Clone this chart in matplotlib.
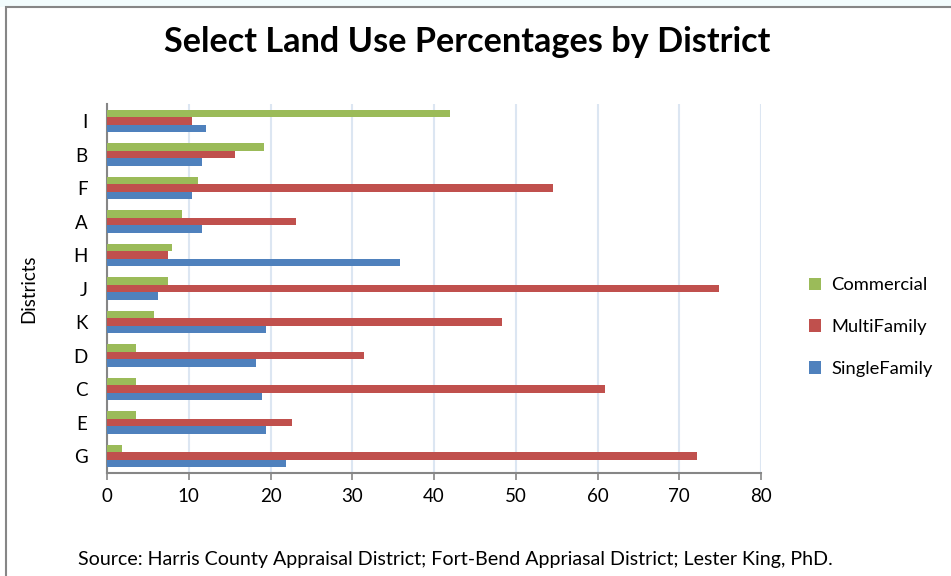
import matplotlib.pyplot as plt
import numpy as np
from matplotlib.patches import Rectangle

# Districts, top to bottom as shown on the chart
districts = ["I", "B", "F", "A", "H", "J", "K", "D", "C", "E", "G"]

# Land use share (%) per district
commercial = [41.9, 19.2, 11.1, 9.2, 7.9, 7.5, 5.7, 3.5, 3.5, 3.5, 1.8]
multi_family = [10.4, 15.7, 54.6, 23.1, 7.5, 74.9, 48.3, 31.4, 60.9, 22.6, 72.2]
single_family = [12.1, 11.6, 10.4, 11.6, 35.8, 6.2, 19.5, 18.2, 19.0, 19.5, 21.9]

x_ticks = [0, 10, 20, 30, 40, 50, 60, 70, 80]

GREEN = "#9BBB59"
RED = "#C0504D"
BLUE = "#4F81BD"
GRID = "#DCE6F2"
AXIS = "#868686"

plt.rcParams["font.family"] = ["Lato", "DejaVu Sans"]

W, H = 951, 576
fig = plt.figure(figsize=(W / 100, H / 100), dpi=100)

# light strip above the chart frame plus the frame itself
fig.patches.append(Rectangle((0, 1 - 7 / H), 1, 7 / H, transform=fig.transFigure,
                             facecolor="#F2FCFD", edgecolor="none", zorder=-10))
fig.patches.append(Rectangle((6 / W, -0.05), 1.1, 1 - 7 / H + 0.05, transform=fig.transFigure,
                             facecolor="white", edgecolor=AXIS, linewidth=1.5, zorder=-10))

left, right = 107 / W, 761 / W
top, bottom = 104.3 / H, 472.8 / H
ax = fig.add_axes([left, 1 - bottom, right - left, bottom - top])
ax.set_facecolor("none")

n = len(districts)
y = np.arange(n)[::-1]
bh = 0.22

ax.barh(y - bh, single_family, height=bh, color=BLUE, label="SingleFamily", zorder=3)
ax.barh(y, multi_family, height=bh, color=RED, label="MultiFamily", zorder=3)
ax.barh(y + bh, commercial, height=bh, color=GREEN, label="Commercial", zorder=3)

ax.set_xlim(0, 80)
ax.set_ylim(-0.5, n - 0.5)
ax.set_xticks(x_ticks)
ax.set_yticks(y)
ax.set_yticklabels(districts)
ax.xaxis.grid(True, color=GRID, linewidth=1.5, zorder=0)
ax.set_axisbelow(True)

for s in ["top", "right"]:
    ax.spines[s].set_visible(False)
for s in ["left", "bottom"]:
    ax.spines[s].set_color(AXIS)
    ax.spines[s].set_linewidth(1.5)

ax.tick_params(axis="x", length=5, width=1.2, color=AXIS, labelsize=13.5, pad=6)
ax.tick_params(axis="y", length=0, labelsize=13.5, pad=14)
ax.set_ylabel("Districts", fontsize=13.5, labelpad=26)

handles, labels = ax.get_legend_handles_labels()
fig.legend(handles[::-1], labels[::-1], loc="center left", bbox_to_anchor=(792 / W, 1 - 327 / H),
           frameon=False, fontsize=13.2, handlelength=0.7, handleheight=0.7,
           handletextpad=0.55, labelspacing=1.4)

fig.text(467 / W, 1 - 42 / H, "Select Land Use Percentages by District",
         ha="center", va="center", fontsize=24.7, fontweight="bold")
fig.text(455 / W, 1 - 560 / H,
         "Source: Harris County Appraisal District; Fort-Bend Appriasal District; Lester King, PhD.",
         ha="center", va="center", fontsize=14.1)

fig.savefig("out.png", dpi=100)
